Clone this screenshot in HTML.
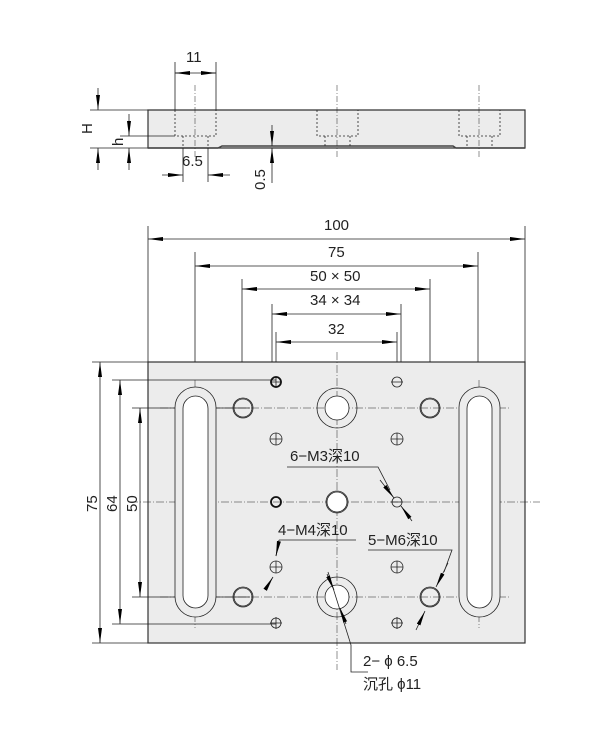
<!DOCTYPE html>
<html><head><meta charset="utf-8"><style>
html,body{margin:0;padding:0;background:#fff}
svg{display:block}
text{font-family:"Liberation Sans","Noto Sans CJK SC",sans-serif;fill:#222;font-size:15px}
</style></head><body>
<svg width="612" height="737" viewBox="0 0 612 737" xmlns="http://www.w3.org/2000/svg">
<defs>
<marker id="a" viewBox="0 0 15 5" refX="15" refY="2.5" markerWidth="15" markerHeight="5" markerUnits="userSpaceOnUse" orient="auto-start-reverse" preserveAspectRatio="none"><path d="M0,0.5 L15,2.5 L0,4.5z" fill="#000"/></marker>
</defs>
<g stroke="#222" stroke-width="0.8" fill="none">
<path d="M148,110 H525 V148 H148 Z" fill="#ececec" stroke="#333" stroke-width="1.2"/>
<path d="M148,148 H218 L222,146 H279 M222,146 H453 L456,148 H525" stroke="#444" stroke-width="1.4"/>
<g stroke-dasharray="2,2">
<path d="M175,110 V136 H216 V110 M183,136 V148 M208,136 V148"/>
<path d="M317,110 V136 H358 V110 M325,136 V148 M350,136 V148"/>
<path d="M459,110 V136 H500 V110 M467,136 V148 M492,136 V148"/>
</g>
<g stroke-dasharray="6,2,1,2" stroke-width="0.5">
<path d="M195,85 V158 M337,85 V158 M479,85 V158"/>
</g>
<path d="M175,62 V110 M216,62 V110 M175,73 H216"/>
<path d="M175,73 H190" marker-start="url(#a)"/><path d="M201,73 H216" marker-end="url(#a)"/>
<path d="M90,110 H148 M120,136 H175 M90,148 H148"/>
<path d="M98,88 V110" marker-end="url(#a)"/><path d="M98,170 V148" marker-end="url(#a)"/>
<path d="M129,114 V136" marker-end="url(#a)"/><path d="M129,170 V148" marker-end="url(#a)"/>
<path d="M183,148 V182 M208,148 V182"/>
<path d="M162,175 H183" marker-end="url(#a)"/><path d="M230,175 H208" marker-end="url(#a)"/>
<path d="M272,125 V146" marker-end="url(#a)"/><path d="M272,183 V148" marker-end="url(#a)"/>
<rect x="148" y="362" width="377" height="281" fill="#ececec" stroke="#333" stroke-width="1.2"/>
<path d="M148,226 V362 M525,226 V362 M195,252 V362 M478,252 V362 M242,279 V362 M430,279 V362 M272,304 V362 M401,304 V362 M276,332 V362 M397,332 V362"/>
<path d="M148,239 H525" marker-start="url(#a)" marker-end="url(#a)"/>
<path d="M195,266 H478" marker-start="url(#a)" marker-end="url(#a)"/>
<path d="M242,289 H430" marker-start="url(#a)" marker-end="url(#a)"/>
<path d="M272,314 H401" marker-start="url(#a)" marker-end="url(#a)"/>
<path d="M276,342 H397" marker-start="url(#a)" marker-end="url(#a)"/>
<path d="M92,362 H148 M112,380 H276 M132,408 H250 M132,597 H250 M112,624 H276 M92,643 H148"/>
<path d="M100,362 V643" marker-start="url(#a)" marker-end="url(#a)"/>
<path d="M120,380 V624" marker-start="url(#a)" marker-end="url(#a)"/>
<path d="M140,408 V597" marker-start="url(#a)" marker-end="url(#a)"/>
<g stroke-dasharray="8,2,1,2" stroke-width="0.5">
<path d="M337,352 V670 M130,502 H540 M160,408 H510 M160,597 H510 M195,380 V628 M479,380 V628"/>
</g>
<rect x="175" y="387" width="41" height="230" rx="20.5" fill="#ececec"/>
<rect x="183" y="396" width="25" height="212" rx="12.5" fill="#fff"/>
<rect x="459" y="387" width="41" height="230" rx="20.5" fill="#ececec"/>
<rect x="467" y="396" width="25" height="212" rx="12.5" fill="#fff"/>
<circle cx="337" cy="408" r="20"/><circle cx="337" cy="408" r="12" fill="#fff"/>
<circle cx="337" cy="597" r="20"/><circle cx="337" cy="597" r="12" fill="#fff"/>
<circle cx="337" cy="502" r="10" fill="#fff"/><circle cx="337" cy="502" r="11"/>
<circle cx="243" cy="408" r="9"/><circle cx="243" cy="408" r="10"/>
<circle cx="430" cy="408" r="9"/><circle cx="430" cy="408" r="10"/>
<circle cx="243" cy="597" r="9"/><circle cx="243" cy="597" r="10"/>
<circle cx="430" cy="597" r="9"/><circle cx="430" cy="597" r="10"/>
<circle cx="276" cy="382" r="5" stroke="#111" stroke-width="1.8"/>
<circle cx="276" cy="502" r="5" stroke="#111" stroke-width="1.8"/>
<circle cx="397" cy="382" r="5"/><circle cx="276" cy="439" r="6"/><circle cx="397" cy="439" r="6"/>
<circle cx="397" cy="502" r="5"/><circle cx="276" cy="567" r="6"/><circle cx="397" cy="567" r="6"/>
<circle cx="276" cy="623" r="5"/><circle cx="397" cy="623" r="5"/>
<path d="M270,382H282M276,376V388M391,439H403M397,433V445M270,439H282M276,433V445M391,567H403M397,561V573M270,567H282M276,561V573M270,623H282M276,617V629M391,623H403M397,617V629M391,502H403M391,382H403"/>
<path d="M287,467 H378 L390,490"/><path d="M380,480 L394,498" marker-end="url(#a)"/><path d="M412,521 L401,506" marker-end="url(#a)"/>
<path d="M279,540 H356 M279,540 L276,556"/><path d="M279,541 L276,556" marker-end="url(#a)"/><path d="M265,590 L273,577" marker-end="url(#a)"/>
<path d="M368,550 H452 L444,572"/><path d="M448,563 L436,587" marker-end="url(#a)"/><path d="M416,630 L425,611" marker-end="url(#a)"/>
<path d="M328,572 L351,645 V672 H368"/><path d="M327,574 L334,590" marker-end="url(#a)"/><path d="M346,624 L340,608" marker-end="url(#a)"/>
</g>
<text x="186" y="62">11</text>
<text x="80" y="134" transform="rotate(-90 86 128)">H</text>
<text x="113" y="146" transform="rotate(-90 118 141)">h</text>
<text x="182" y="166">6.5</text>
<text x="250" y="185" transform="rotate(-90 260 180)">0.5</text>
<text x="324" y="230">100</text>
<text x="328" y="257">75</text>
<text x="310" y="281">50 × 50</text>
<text x="310" y="305">34 × 34</text>
<text x="328" y="334">32</text>
<text x="82" y="507" transform="rotate(-90 92 502)">75</text>
<text x="102" y="507" transform="rotate(-90 112 502)">64</text>
<text x="122" y="507" transform="rotate(-90 132 502)">50</text>
<text x="290" y="461">6−M3深10</text>
<text x="278" y="535">4−M4深10</text>
<text x="368" y="545">5−M6深10</text>
<text x="363" y="666">2− ϕ 6.5</text>
<text x="363" y="689">沉孔 ϕ11</text>
</svg>
</body></html>
